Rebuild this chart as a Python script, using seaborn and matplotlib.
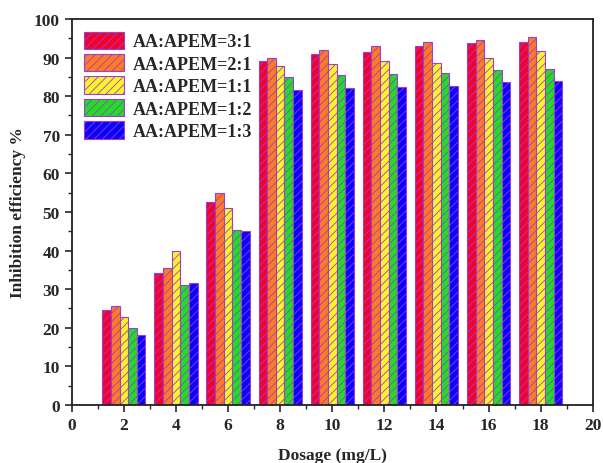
import numpy as np
import pandas as pd
import matplotlib
matplotlib.use("Agg")
import matplotlib.pyplot as plt
import seaborn as sns
from matplotlib.patches import Patch
from matplotlib.ticker import MultipleLocator

dosage = [2, 4, 6, 8, 10, 12, 14, 16, 18]
series_names = ["AA:APEM=3:1", "AA:APEM=2:1", "AA:APEM=1:1", "AA:APEM=1:2", "AA:APEM=1:3"]
r31 = [24.7, 34.3, 52.5, 89.2, 90.8, 91.5, 92.9, 93.7, 94.0]
r21 = [25.7, 35.6, 54.8, 89.9, 92.0, 92.9, 94.1, 94.6, 95.2]
r11 = [22.7, 39.8, 51.0, 87.7, 88.4, 89.1, 88.6, 89.8, 91.8]
r12 = [19.9, 31.1, 45.3, 84.9, 85.6, 85.7, 86.1, 86.9, 87.0]
r13 = [18.2, 31.6, 45.0, 81.6, 82.0, 82.5, 82.7, 83.6, 83.8]
colors = ["#F5002A", "#FF7A22", "#FFF22A", "#22DD22", "#0A00FF"]
edge = "#9A40D0"

rows = []
for name, vals in zip(series_names, [r31, r21, r11, r12, r13]):
    for d, v in zip(dosage, vals):
        rows.append({"Dosage": d, "Eff": v, "Ratio": name})
df = pd.DataFrame(rows)

sns.set_style("ticks")
plt.rcParams["font.family"] = ["Liberation Serif", "DejaVu Serif"]
plt.rcParams["font.weight"] = "bold"
plt.rcParams["hatch.linewidth"] = 0.6

fig = plt.figure(figsize=(6.03, 4.64), dpi=100)
ax = fig.add_axes([0.119, 0.125, 0.864, 0.832])

sns.barplot(data=df, x="Dosage", y="Eff", hue="Ratio", hue_order=series_names,
            palette=colors, saturation=1, native_scale=True, width=0.83, dodge=True,
            edgecolor=edge, linewidth=0.8, errorbar=None, ax=ax, legend=False)

for p in ax.patches:
    p.set_hatch("////")

ax.set_xlim(0, 20)
ax.set_ylim(0, 100)
ax.xaxis.set_major_locator(MultipleLocator(2))
ax.xaxis.set_minor_locator(MultipleLocator(1))
ax.yaxis.set_major_locator(MultipleLocator(10))
ax.yaxis.set_minor_locator(MultipleLocator(5))
ax.tick_params(which="major", direction="out", length=5, width=1.2, labelsize=12.5)
ax.tick_params(which="minor", direction="out", length=3, width=1.0)
for lab in ax.get_xticklabels() + ax.get_yticklabels():
    lab.set_fontweight("bold")
for s in ax.spines.values():
    s.set_visible(True)
    s.set_linewidth(1.3)
    s.set_color("#222222")

ax.set_xlabel("Dosage (mg/L)", fontsize=12.5, fontweight="bold", labelpad=10)
ax.set_ylabel("Inhibition efficiency %", fontsize=12.5, fontweight="bold", labelpad=6)

handles = [Patch(facecolor=c, edgecolor=edge, hatch="////", linewidth=0.8) for c in colors]
ax.legend(handles, series_names, loc="upper left", frameon=False,
          handlelength=2.2, handleheight=1.1, labelspacing=0.2, handletextpad=0.5,
          borderaxespad=0.3, bbox_to_anchor=(0.0, 1.0),
          prop={"weight": "bold", "size": 13})

fig.savefig("out.png", dpi=100)
